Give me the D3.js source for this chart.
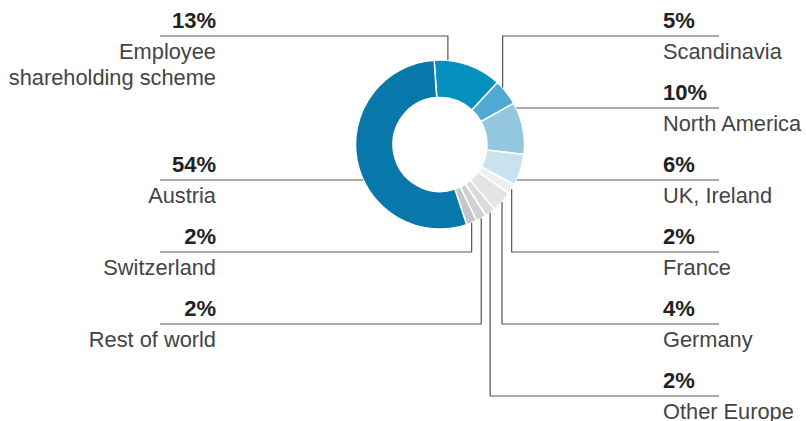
<!DOCTYPE html>
<html>
<head>
<meta charset="utf-8">
<script src="https://cdn.jsdelivr.net/npm/d3@7"></script>
<style>
  html, body { margin: 0; padding: 0; background: #fff; }
  svg { display: block; }
  text { font-family: "Liberation Sans", Arial, Helvetica, sans-serif; }
</style>
</head>
<body>
<svg id="chart" width="806" height="421"></svg>
<script>
// ---- data ----
const categories = ["Employee shareholding scheme", "Scandinavia", "North America", "UK, Ireland", "France",
                    "Germany", "Other Europe", "Rest of world", "Switzerland", "Austria"];
const labelLines = [["Employee", "shareholding scheme"], ["Scandinavia"], ["North America"], ["UK, Ireland"], ["France"],
                    ["Germany"], ["Other Europe"], ["Rest of world"], ["Switzerland"], ["Austria"]];
const values = [13, 5, 10, 6, 2, 4, 2, 2, 2, 54];
const colors = ["#0491bd", "#4eaad2", "#93c7df", "#c8e2ef", "#eff0f0",
                "#e3e5e5", "#d9dbdc", "#cfd1d2", "#c4c6c8", "#0877a9"];

// ---- layout ----
const W = 806, H = 421;
const cx = 440, cy = 144.5, R = 84.5, r = 47;
const startDeg = -4;
// side, row index, leader type ("v" vertical to arc, "h" horizontal to arc), anchor fraction within slice
const layout = [
  {side: "L", row: 0, type: "v", f: 0.2},
  {side: "R", row: 0, type: "v", f: 0.28},
  {side: "R", row: 1, type: "h"},
  {side: "R", row: 2, type: "h"},
  {side: "R", row: 3, type: "v", f: 0.5},
  {side: "R", row: 4, type: "v", f: 0.5},
  {side: "R", row: 5, type: "v", f: 0.5},
  {side: "L", row: 4, type: "v", f: 0.5},
  {side: "L", row: 3, type: "v", f: 0.5},
  {side: "L", row: 2, type: "h"}
];
const rowY = d3.scaleLinear().domain([0, 5]).range([36, 396]);
const leftLineX = 160, leftTextX = 216, rightTextX = 663, rightLineX = 719;

const svg = d3.select("#chart");

const pie = d3.pie().sort(null).value(d => d)
  .startAngle(startDeg * Math.PI / 180)
  .endAngle((startDeg + 360) * Math.PI / 180);
const arcs = pie(values);
const arc = d3.arc().innerRadius(r).outerRadius(R);

const g = svg.append("g").attr("transform", `translate(${cx},${cy})`);
g.selectAll("path").data(arcs).enter().append("path")
  .attr("d", arc)
  .attr("fill", (d, i) => colors[i])
  .attr("stroke", "#fff")
  .attr("stroke-width", 1.5);

// leaders + labels
const lines = svg.append("g").attr("fill", "none").attr("stroke", "#555").attr("stroke-width", 1.2);
const labels = svg.append("g");

arcs.forEach((a, i) => {
  const L = layout[i];
  const y = rowY(L.row);
  let pts;
  if (L.type === "v") {
    const ang = a.startAngle + (a.endAngle - a.startAngle) * L.f;
    const x = cx + R * Math.sin(ang);
    const ya = cy - R * Math.cos(ang);
    pts = L.side === "L" ? [[leftLineX, y], [x, y], [x, ya]] : [[rightLineX, y], [x, y], [x, ya]];
  } else {
    const dy = y - cy;
    const dx = Math.sqrt(Math.max(0, R * R - dy * dy));
    const x = L.side === "L" ? cx - dx : cx + dx;
    pts = L.side === "L" ? [[leftLineX, y], [x, y]] : [[rightLineX, y], [x, y]];
  }
  lines.append("path").attr("d", d3.line()(pts));

  const tx = L.side === "L" ? leftTextX : rightTextX;
  const anchor = L.side === "L" ? "end" : "start";
  labels.append("text")
    .attr("x", tx).attr("y", y - 8)
    .attr("text-anchor", anchor)
    .attr("font-size", 22).attr("font-weight", "bold").attr("fill", "#222")
    .text(values[i] + "%");
  labelLines[i].forEach((t, k) => {
    labels.append("text")
      .attr("x", tx).attr("y", y + 23 + k * 26)
      .attr("text-anchor", anchor)
      .attr("font-size", 21.8).attr("fill", "#444")
      .text(t);
  });
});
</script>
</body>
</html>
